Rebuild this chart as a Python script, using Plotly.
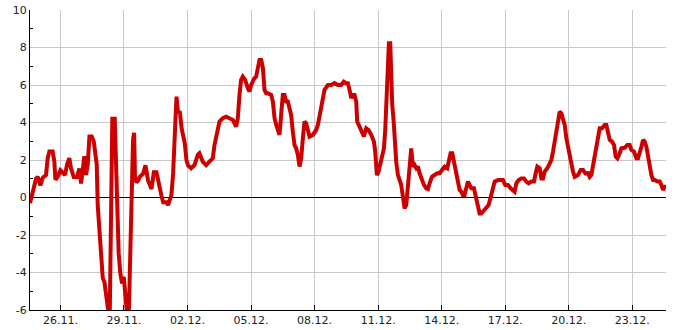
import pandas as pd
import plotly.graph_objects as go

# time as days after 24.11. 00:00, temperature in °C
start_date = "2012-11-24"
day_offsets = [
    0.564, 0.644, 0.74, 0.849, 0.93, 1.054, 1.164, 1.32, 1.4, 1.48, 1.636, 1.715, 1.762, 1.87, 2.0, 2.11,
    2.22, 2.31, 2.42, 2.5, 2.63, 2.786, 2.896, 2.975, 3.05, 3.13, 3.21, 3.29, 3.37, 3.48, 3.573, 3.652,
    3.715, 3.76, 3.84, 3.92, 4.0, 4.077, 4.156, 4.235, 4.29, 4.33, 4.376, 4.41, 4.45, 4.565, 4.61, 4.64,
    4.69, 4.75, 4.83, 4.91, 4.99, 5.07, 5.146, 5.23, 5.27, 5.35, 5.40, 5.43, 5.48, 5.52, 5.59, 5.67,
    5.745, 5.90, 6.015, 6.06, 6.14, 6.30, 6.41, 6.535, 6.61, 6.77, 6.85, 7.0, 7.08, 7.16, 7.24, 7.32,
    7.37, 7.43, 7.48, 7.556, 7.635, 7.72, 7.79, 7.87, 7.95, 8.03, 8.17, 8.33, 8.485, 8.564, 8.72, 8.88,
    9.037, 9.194, 9.273, 9.35, 9.43, 9.51, 9.667, 9.824, 9.98, 10.14, 10.297, 10.375, 10.454, 10.53, 10.61, 10.72,
    10.85, 10.926, 11.005, 11.084, 11.16, 11.24, 11.32, 11.40, 11.48, 11.56, 11.635, 11.714, 11.79, 11.95, 12.03, 12.11,
    12.19, 12.264, 12.343, 12.42, 12.50, 12.58, 12.658, 12.737, 12.816, 12.894, 12.973, 13.052, 13.13, 13.21, 13.288, 13.367,
    13.446, 13.524, 13.603, 13.682, 13.76, 13.918, 14.075, 14.154, 14.233, 14.31, 14.39, 14.47, 14.627, 14.784, 14.94, 15.1,
    15.256, 15.38, 15.493, 15.571, 15.65, 15.73, 15.807, 15.886, 15.965, 16.012, 16.122, 16.233, 16.327, 16.437, 16.547, 16.673,
    16.80, 16.862, 16.94, 17.02, 17.1, 17.193, 17.272, 17.335, 17.414, 17.46, 17.508, 17.571, 17.618, 17.665, 17.728, 17.776,
    17.854, 17.933, 18.012, 18.09, 18.17, 18.248, 18.327, 18.406, 18.484, 18.563, 18.642, 18.72, 18.8, 18.878, 18.957, 19.036,
    19.162, 19.272, 19.35, 19.43, 19.54, 19.665, 19.79, 19.9, 20.01, 20.137, 20.263, 20.34, 20.42, 20.5, 20.58, 20.657,
    20.767, 20.846, 20.925, 21.0, 21.08, 21.16, 21.24, 21.32, 21.397, 21.523, 21.633, 21.71, 21.79, 21.87, 21.996, 22.106,
    22.216, 22.34, 22.42, 22.5, 22.657, 22.815, 22.893, 23.0, 23.13, 23.256, 23.366, 23.445, 23.524, 23.634, 23.76, 23.886,
    23.996, 24.106, 24.232, 24.358, 24.437, 24.516, 24.626, 24.705, 24.784, 24.862, 24.988, 25.1, 25.177, 25.256, 25.335, 25.413,
    25.492, 25.571, 25.65, 25.728, 25.807, 25.886, 25.965, 26.043, 26.122, 26.2, 26.28, 26.437, 26.563, 26.673, 26.784, 26.91,
    26.987, 27.065, 27.144, 27.223, 27.302, 27.38, 27.46, 27.57, 27.695, 27.774, 27.853, 27.932, 28.042, 28.136, 28.215, 28.294,
    28.404, 28.483, 28.64, 28.766, 28.876, 28.955, 29.08, 29.19, 29.27, 29.35, 29.428, 29.507, 29.585, 29.664, 29.743, 29.82,
    29.9, 29.98, 30.058, 30.184, 30.294, 30.372, 30.45, 30.53, 30.6,
]
temperatures = [
    -0.3, 0.05, 0.6, 1.0, 1.1, 0.65, 1.05, 1.2, 2.1, 2.45, 2.45, 1.9, 0.95, 1.1, 1.45, 1.3,
    1.2, 1.75, 2.1, 1.55, 1.1, 1.1, 1.55, 0.75, 1.4, 2.2, 1.2, 1.75, 3.25, 3.25, 3.0, 2.45,
    1.75, -0.4, -1.8, -3.25, -4.3, -4.5, -5.2, -5.75, -6.3, -6.2, -2.2, 1.7, 4.2, 4.2, 2.5, -0.13,
    -1.56, -2.98, -4.05, -4.58, -4.23, -5.12, -6.2, -6.2, -4.05, -1.91, 0.6, 3.1, 3.45, 1.1, 0.8, 0.9,
    1.1, 1.27, 1.72, 1.27, 0.9, 0.45, 1.35, 1.35, 0.9, 0.1, -0.25, -0.25, -0.4, -0.13, 0.13, 1.27,
    2.34, 3.77, 5.38, 4.49, 4.6, 3.7, 3.26, 2.9, 2.0, 1.7, 1.56, 1.73, 2.27, 2.36, 1.91, 1.73,
    1.91, 2.09, 2.8, 3.16, 3.69, 4.05, 4.23, 4.31, 4.23, 4.14, 3.78, 4.23, 5.47, 6.27, 6.45, 6.27,
    5.83, 5.65, 6.0, 6.27, 6.36, 6.45, 6.9, 7.34, 7.34, 6.9, 5.74, 5.56, 5.56, 5.47, 5.12, 4.23,
    3.87, 3.6, 3.34, 4.4, 5.47, 5.47, 5.12, 5.12, 4.76, 4.4, 3.51, 2.8, 2.62, 2.27, 1.65, 2.09,
    3.16, 4.05, 3.96, 3.51, 3.25, 3.34, 3.6, 3.87, 4.31, 4.85, 5.38, 5.74, 6.0, 6.0, 6.1, 6.0,
    6.0, 6.18, 6.1, 6.1, 5.74, 5.3, 5.47, 5.47, 5.12, 4.05, 3.78, 3.43, 3.25, 3.69, 3.6, 3.34,
    2.98, 2.45, 1.2, 1.38, 1.82, 2.27, 2.62, 3.6, 5.56, 6.0, 8.23, 8.23, 6.18, 4.94, 4.14, 2.8,
    1.91, 1.2, 0.85, 0.67, 0.04, -0.58, -0.4, 0.67, 2.09, 2.62, 1.65, 1.73, 1.56, 1.65, 1.29, 1.02,
    0.67, 0.49, 0.45, 0.76, 1.1, 1.2, 1.29, 1.29, 1.47, 1.65, 1.56, 1.91, 2.36, 2.36, 1.91, 1.38,
    0.85, 0.4, 0.31, 0.13, 0.13, 0.58, 0.85, 0.67, 0.49, 0.49, -0.13, -0.67, -0.85, -0.85, -0.67, -0.58,
    -0.4, 0.13, 0.58, 0.85, 0.93, 0.93, 0.93, 0.67, 0.67, 0.49, 0.4, 0.31, 0.76, 0.93, 1.02, 1.02,
    0.85, 0.76, 0.85, 0.85, 1.29, 1.65, 1.56, 1.02, 1.02, 1.38, 1.56, 1.77, 2.0, 2.45, 3.07, 3.6,
    4.31, 4.58, 4.49, 4.14, 3.87, 3.16, 2.62, 2.18, 1.82, 1.38, 1.1, 1.2, 1.47, 1.47, 1.29, 1.3,
    1.1, 1.2, 1.73, 2.09, 2.62, 3.16, 3.69, 3.69, 3.87, 3.87, 3.43, 3.07, 2.98, 2.8, 2.18, 2.09,
    2.36, 2.62, 2.65, 2.8, 2.8, 2.54, 2.45, 2.09, 2.09, 2.36, 2.71, 3.07, 2.98, 2.71, 2.09, 1.73,
    1.2, 0.93, 0.93, 0.85, 0.85, 0.67, 0.4, 0.58, 0.58,
]
y_ticks = [-6, -4, -2, 0, 2, 4, 6, 8, 10]
y_tick_labels = ["-6", "-4", "-2", "0", "2", "4", "6", "8", "10"]
y_minor_ticks = [-5, -3, -1, 1, 3, 5, 7, 9]
x_tick_start = "2012-11-26"
x_range_days = [0.564, 30.59]

base = pd.Timestamp(start_date)
times = base + pd.to_timedelta(day_offsets, unit="D")
x_range = [base + pd.to_timedelta(d, unit="D") for d in x_range_days]

fig = go.Figure()
fig.add_trace(go.Scatter(
    x=times, y=temperatures, mode="lines",
    line=dict(color="#cc0000", width=4),
    hoverinfo="x+y", showlegend=False,
))

font = dict(family="DejaVu Sans", size=11, color="#222222")
fig.update_layout(
    width=685, height=330,
    margin=dict(l=30, r=19, t=10, b=20, autoexpand=False),
    paper_bgcolor="white", plot_bgcolor="white",
    font=font,
)
fig.update_xaxes(
    range=x_range, automargin=False,
    tick0=x_tick_start, dtick=3 * 24 * 3600 * 1000,
    tickformat="%d.%m.",
    ticks="inside", ticklen=5, tickcolor="black",
    showgrid=True, gridcolor="#c8c8c8", gridwidth=1,
    showline=True, linecolor="black", linewidth=1,
    zeroline=False, tickfont=font,
)
fig.update_yaxes(
    range=[-6, 10], automargin=False,
    tickmode="array", tickvals=y_ticks, ticktext=y_tick_labels,
    ticks="", showgrid=True, gridcolor="#c8c8c8", gridwidth=1,
    showline=True, linecolor="black", linewidth=1,
    zeroline=True, zerolinecolor="black", zerolinewidth=1,
    minor=dict(tickmode="array", tickvals=y_minor_ticks, ticks="inside", ticklen=3,
               tickcolor="black", showgrid=False),
    tickfont=font,
)
fig.write_html("out.html")
